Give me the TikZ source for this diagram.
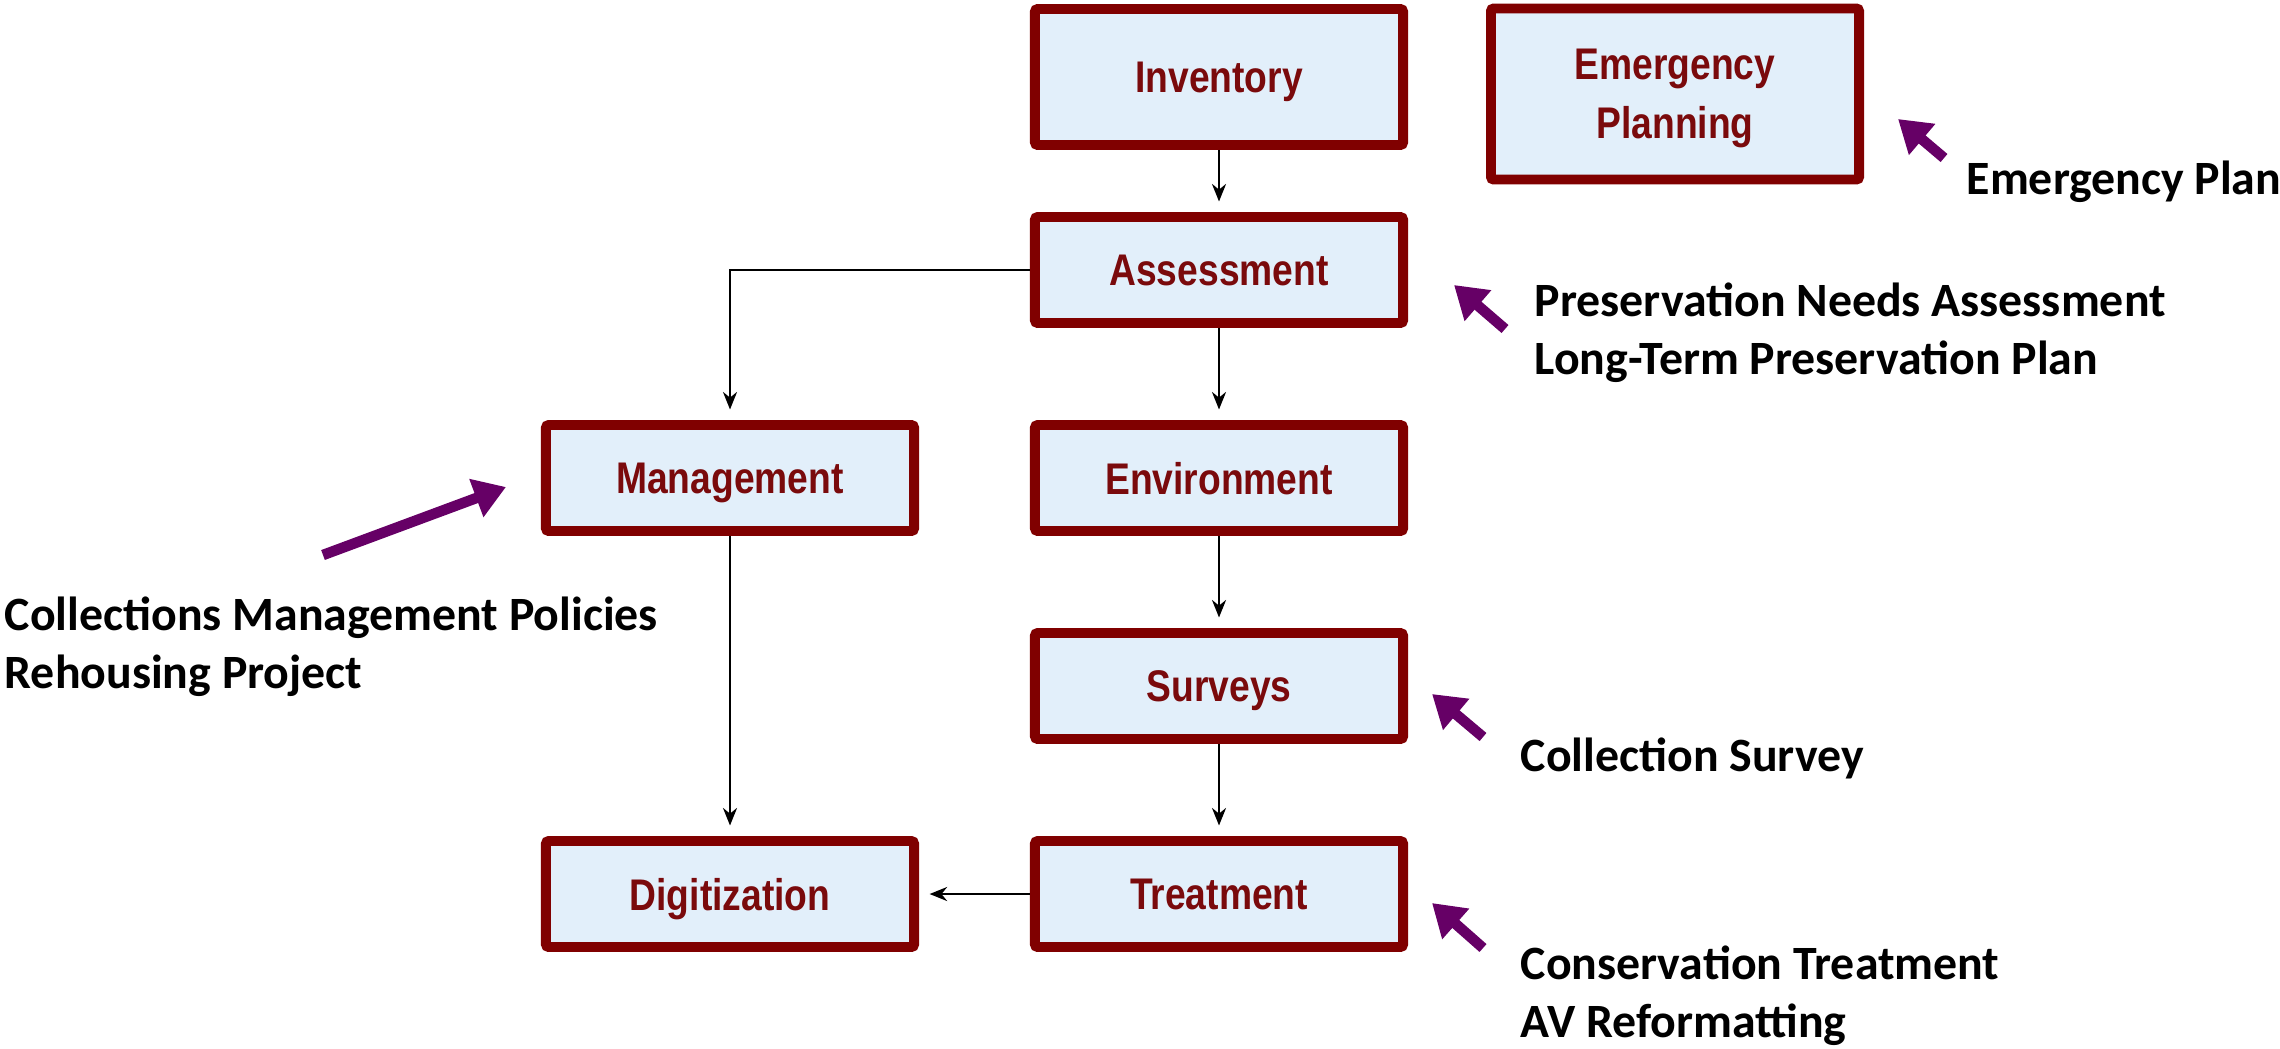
\documentclass[tikz,border=0pt]{standalone}
\usepackage{fontspec}
\setmainfont{Carlito}
\newfontfamily\boxfont[FakeStretch=0.84]{Liberation Sans}
\usetikzlibrary{arrows.meta}
\definecolor{boxred}{HTML}{800000}
\definecolor{boxtext}{HTML}{7A0A0C}
\definecolor{boxfill}{HTML}{E2EFFA}
\definecolor{notepurple}{HTML}{660066}
\tikzset{
	stepbox/.style={draw=boxred, line width=2.8pt, fill=boxfill, rounded corners=0.8pt,
		minimum width=3.68cm, minimum height=1.06cm, inner sep=0pt, align=center,
		text depth=0pt, text=boxtext, font=\boxfont\bfseries\fontsize{12.6}{16.8}\selectfont},
	flow/.style={-{Stealth[length=5pt,width=4pt]}, line width=0.6pt, shorten >=3pt},
	pointer/.style={notepurple, line width=3pt, -{Triangle[length=9pt,width=11pt]}},
	note/.style={anchor=west, align=left, inner sep=0pt, font=\bfseries\fontsize{13.6}{16.5}\selectfont}
}
\begin{document}
\begin{tikzpicture}[x=0.01cm,y=-0.01cm]
				\useasboundingbox (0,0) rectangle (2280,1048);
				\node[stepbox, minimum height=1.36cm] (inv) at (1219,77) {Inventory};
				\node[stepbox, minimum height=1.71cm] (emerg) at (1675,94) {Emergency\\Planning};
				\node[stepbox] (assess) at (1219,270) {Assessment};
				\node[stepbox] (mgmt) at (730,478) {Management};
				\node[stepbox] (env) at (1219,478) {Environment};
				\node[stepbox] (surv) at (1219,686) {Surveys};
				\node[stepbox] (digit) at (730,894) {Digitization};
				\node[stepbox] (treat) at (1219,894) {Treatment};
				\draw[flow] (inv) -- (assess);
				\draw[flow] (assess) -- (env);
				\draw[flow] (assess.west) -| (mgmt.north);
				\draw[flow] (env) -- (surv);
				\draw[flow] (surv) -- (treat);
				\draw[flow] (mgmt) -- (digit);
				\draw[flow] (treat) -- (digit);
				\node[note] (emergnote) at (1966,182) {Emergency Plan};
				\node[note] (assessnote) at (1534,333) {Preservation Needs Assessment\\Long-Term Preservation Plan};
				\node[note] (mgmtnote) at (4,647) {Collections Management Policies\\Rehousing Project};
				\node[note] (survnote) at (1520,758) {Collection Survey};
				\node[note] (treatnote) at (1520,996) {Conservation Treatment\\AV Reformatting};
				\coordinate (emergtail) at (1944,158);
				\coordinate (emergtip) at (1898,119);
				\coordinate (assesstail) at (1505,329);
				\coordinate (assesstip) at (1454,285);
				\coordinate (mgmttail) at (323,555);
				\coordinate (mgmttip) at (506,487);
				\coordinate (survtail) at (1483,737);
				\coordinate (survtip) at (1432,694);
				\coordinate (treattail) at (1483,948);
				\coordinate (treattip) at (1432,903);
				\foreach \p in {emerg,assess,mgmt,surv,treat}
				\draw[pointer] (\p tail) -- (\p tip);
			\end{tikzpicture}
\end{document}
